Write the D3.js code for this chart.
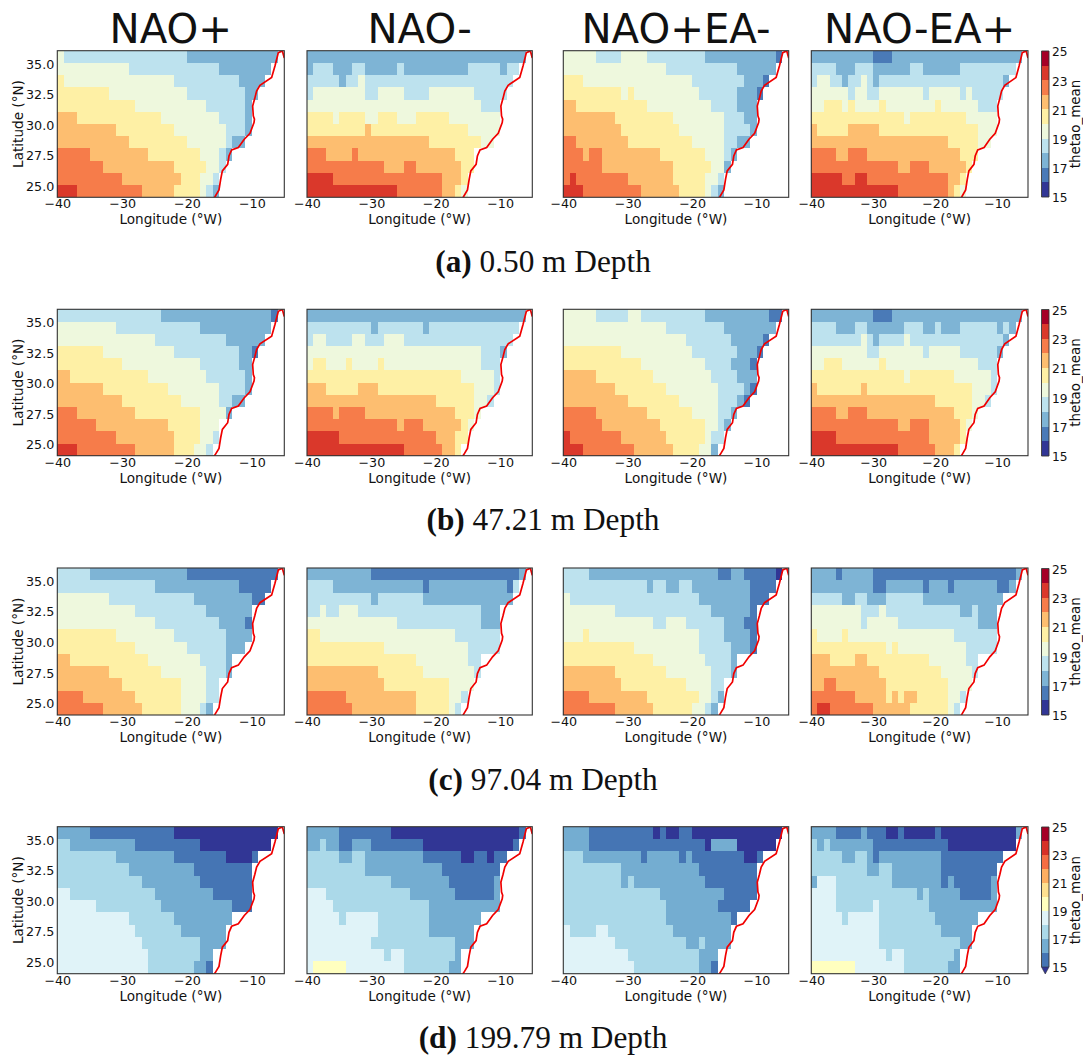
<!DOCTYPE html>
<html>
<head>
<meta charset="utf-8">
<script src="https://cdn.jsdelivr.net/npm/d3@7"></script>
<style>
  body { margin: 0; background: #fff; }
  text { font-family: "DejaVu Sans", sans-serif; fill: #111; }
  .caption text, text.caption { font-family: "Liberation Serif", serif; }
</style>
</head>
<body>
<div id="chart"></div>
<script>
// each row runs north to south, written as pairs: temperature bin (floor, degC), column where the run ends
// columns past the last run are land
const depth050NaoPlus = [
  [19,1, 18,20, 17,34],
  [19,11, 18,25, 17,33],
  [20,1, 19,18, 18,28, 17,32],
  [20,8, 19,20, 18,29, 17,31],
  [20,12, 19,23, 18,29, 17,30],
  [21,3, 20,16, 19,25, 18,29, 17,30],
  [21,9, 20,18, 19,26, 18,29, 17,30],
  [21,11, 20,20, 19,26, 18,27, 17,29],
  [22,5, 21,14, 20,22, 19,25, 18,26, 17,27],
  [22,7, 21,18, 20,23, 19,25, 18,26],
  [22,10, 21,19, 20,22, 19,24, 18,25],
  [23,3, 22,13, 21,18, 20,22, 19,23, 18,24, 17,25]
];
const depth050NaoMinus = [
  [17,34],
  [17,1, 18,4, 17,7, 18,9, 17,14, 18,15, 17,25, 18,30, 17,31, 18,33],
  [18,5, 17,6, 18,8, 19,9, 18,32],
  [18,1, 19,9, 18,11, 19,15, 18,19, 19,26, 18,31],
  [19,27, 18,30],
  [20,4, 19,5, 20,9, 19,11, 20,14, 19,17, 20,22, 19,30],
  [20,9, 21,10, 20,25, 19,30],
  [21,19, 20,27, 19,29],
  [22,3, 21,7, 22,8, 21,23, 20,26],
  [22,12, 21,15, 22,17, 21,24, 20,26],
  [23,4, 22,21, 21,24, 20,25],
  [23,14, 22,21, 21,23, 20,24, 19,25]
];
const depth050NaoPlusEaMinus = [
  [19,5, 18,9, 19,13, 18,22, 17,33, 16,34],
  [19,16, 18,27, 17,33],
  [20,3, 19,20, 18,28, 17,31, 16,32],
  [20,9, 19,10, 20,11, 19,21, 18,27, 17,30, 16,31],
  [21,2, 20,13, 19,23, 18,27, 17,30],
  [21,8, 20,17, 19,25, 18,28, 17,30],
  [21,9, 20,18, 19,25, 18,29, 17,30],
  [22,2, 21,10, 20,20, 19,25, 18,27, 17,29],
  [22,3, 21,4, 22,6, 21,15, 20,22, 19,25, 18,26, 17,27],
  [22,6, 21,17, 20,23, 19,25, 17,26],
  [22,1, 23,2, 22,10, 21,17, 20,22, 19,24, 18,25],
  [23,3, 22,12, 21,18, 20,22, 19,23, 18,24, 17,25]
];
const depth050NaoMinusEaPlus = [
  [17,10, 16,13, 17,34],
  [18,4, 17,7, 18,10, 17,16, 18,18, 17,24, 18,33],
  [18,1, 19,3, 18,5, 17,6, 18,8, 19,9, 18,10, 17,11, 18,31, 17,32],
  [19,6, 18,7, 19,9, 18,11, 19,18, 18,19, 19,24, 18,25, 19,26, 18,31],
  [19,2, 20,5, 19,6, 20,7, 19,11, 20,12, 19,20, 20,21, 19,27, 18,30],
  [20,15, 19,16, 20,25, 19,30],
  [21,1, 20,6, 21,11, 20,27, 19,30],
  [21,22, 20,27, 19,29],
  [22,4, 21,6, 22,9, 21,24, 20,27],
  [22,14, 21,16, 22,19, 21,25, 20,26],
  [23,5, 22,7, 23,9, 22,22, 21,24, 20,25],
  [23,14, 22,22, 21,23, 20,24, 19,25]
];

const depth47NaoPlus = [
  [18,16, 17,33, 16,34],
  [19,9, 18,22, 17,33],
  [19,15, 18,26, 17,32],
  [20,7, 19,18, 18,28, 17,30, 16,31],
  [20,10, 19,22, 18,28, 17,30],
  [21,2, 20,14, 19,23, 18,29, 17,30],
  [21,7, 20,17, 19,25, 18,29, 17,30],
  [21,10, 20,19, 19,25, 18,27, 17,29],
  [22,3, 21,12, 20,22, 19,26, 17,27],
  [22,6, 21,17, 20,22, 19,25],
  [22,9, 21,18, 20,22, 19,24, 18,25],
  [23,3, 22,12, 21,18, 20,21, 19,23, 18,24]
];
const depth47NaoMinus = [
  [17,34],
  [18,10, 17,11, 18,18, 17,19, 18,33],
  [18,1, 19,3, 18,7, 19,9, 18,12, 19,15, 18,32],
  [19,27, 18,30, 17,31],
  [19,1, 20,3, 19,6, 20,7, 19,11, 20,12, 19,27, 18,30],
  [20,24, 19,29, 18,30],
  [21,3, 20,8, 21,11, 20,26, 19,29, 18,30],
  [21,20, 20,26, 19,28, 18,29],
  [22,4, 21,5, 22,9, 21,23, 20,26, 19,27],
  [22,14, 21,15, 22,18, 21,24, 20,25, 19,26],
  [23,5, 22,20, 21,23, 20,25],
  [23,15, 22,21, 21,23, 20,24]
];
const depth47NaoPlusEaMinus = [
  [19,5, 18,10, 19,12, 18,22, 17,32, 16,34],
  [19,16, 18,25, 17,33],
  [19,19, 18,26, 17,31, 16,32],
  [20,9, 19,20, 18,27, 17,30, 16,31],
  [20,12, 19,22, 18,26, 17,29, 16,30],
  [21,5, 20,14, 19,23, 18,27, 17,30],
  [21,8, 20,16, 19,24, 18,28, 17,29, 16,30],
  [21,10, 20,18, 19,24, 18,27, 17,28, 16,29],
  [22,5, 21,13, 20,20, 19,24, 18,26, 17,27],
  [22,6, 21,15, 20,22, 19,24, 18,25, 17,26],
  [23,1, 22,9, 21,16, 20,22, 19,23, 18,25],
  [23,3, 22,11, 21,17, 20,21, 19,23, 17,24]
];
const depth47NaoMinusEaPlus = [
  [17,10, 16,13, 17,34],
  [18,4, 17,7, 18,9, 17,15, 18,18, 17,20, 18,21, 17,24, 18,30, 17,31, 18,32, 17,33],
  [18,8, 19,9, 18,10, 17,11, 18,15, 19,16, 18,31, 17,32],
  [19,9, 18,11, 19,18, 18,19, 19,24, 18,30, 17,31],
  [19,2, 20,5, 19,11, 20,12, 19,27, 18,30],
  [20,15, 19,16, 20,23, 19,29, 18,30],
  [21,1, 20,8, 21,9, 20,26, 19,29, 18,30],
  [21,20, 20,26, 19,28, 18,29],
  [22,4, 21,6, 22,9, 21,23, 20,26, 19,27],
  [22,14, 21,16, 22,19, 21,24, 20,25, 19,26],
  [23,4, 22,19, 21,24, 20,25],
  [23,14, 22,20, 21,23, 20,24]
];

const depth97NaoPlus = [
  [18,5, 17,20, 16,34],
  [18,15, 17,28, 16,33],
  [19,8, 18,21, 17,30, 16,32],
  [19,12, 18,23, 17,30],
  [19,15, 18,25, 17,29, 16,30],
  [20,9, 19,18, 18,26, 17,30],
  [20,12, 19,20, 18,26, 17,29],
  [21,2, 20,14, 19,22, 18,26, 17,27],
  [21,8, 20,16, 19,23, 18,26, 17,27],
  [21,10, 20,19, 19,23, 18,25],
  [22,4, 21,12, 20,19, 19,23, 18,25],
  [22,7, 21,13, 20,19, 19,22, 18,23, 17,24]
];
const depth97NaoMinus = [
  [17,10, 16,33, 17,34],
  [18,4, 17,18, 16,19, 17,31, 16,32, 18,33],
  [18,10, 17,11, 18,18, 17,32],
  [18,2, 19,3, 18,5, 19,8, 18,27, 17,30],
  [19,14, 18,27, 17,30],
  [20,2, 19,23, 18,30],
  [20,12, 19,25, 18,30],
  [20,17, 19,25, 18,27],
  [21,11, 20,18, 19,26, 18,27],
  [21,12, 20,22, 19,26],
  [22,6, 21,17, 20,22, 19,24, 18,25],
  [22,7, 21,17, 20,22, 19,23, 18,24]
];
const depth97NaoPlusEaMinus = [
  [18,4, 17,24, 16,26, 17,28, 16,33, 15,34],
  [18,13, 17,14, 18,16, 17,18, 18,20, 17,29, 16,33],
  [19,1, 18,21, 17,29, 16,32],
  [19,8, 18,23, 17,29, 16,30],
  [19,14, 18,16, 19,19, 18,25, 17,28, 16,30],
  [19,3, 20,4, 19,21, 18,25, 17,29, 16,30],
  [20,11, 19,21, 18,26, 17,29, 16,30],
  [20,14, 19,22, 18,26, 17,27],
  [21,8, 20,16, 19,23, 18,26, 17,27],
  [21,9, 20,19, 19,23, 18,25],
  [22,4, 21,13, 20,21, 19,23, 18,24, 17,25],
  [22,8, 21,14, 20,20, 19,22, 18,23, 17,24]
];
const depth97NaoMinusEaPlus = [
  [17,4, 16,5, 17,10, 16,33, 17,34],
  [17,10, 16,12, 17,18, 16,19, 17,22, 16,23, 17,30, 16,32, 17,33],
  [18,5, 17,7, 18,9, 17,12, 18,18, 17,31],
  [19,8, 18,11, 19,12, 18,24, 17,26, 18,27, 17,30],
  [19,8, 18,9, 19,14, 18,27, 17,30],
  [20,1, 19,5, 20,6, 19,23, 18,30],
  [20,12, 19,13, 20,14, 19,25, 18,30],
  [21,3, 20,7, 21,9, 20,19, 19,25, 18,27],
  [21,11, 20,21, 19,26, 18,27],
  [21,2, 22,4, 21,12, 20,22, 19,26],
  [22,7, 21,12, 20,13, 21,14, 20,15, 21,17, 20,22, 19,24, 18,25],
  [22,1, 23,3, 22,10, 21,16, 20,22, 19,23, 18,24]
];

const depth200NaoPlus = [
  [16,5, 15,18, 14,34],
  [17,2, 16,12, 15,22, 14,33],
  [17,9, 16,18, 15,26, 14,30, 15,31],
  [17,11, 16,21, 15,30],
  [17,13, 16,22, 15,30],
  [18,2, 17,15, 16,24, 15,30],
  [18,6, 17,16, 16,27, 15,30],
  [18,11, 17,18, 16,27],
  [18,12, 17,19, 16,26],
  [18,13, 17,22, 16,26],
  [18,14, 17,22, 16,24],
  [18,14, 17,21, 16,23, 15,24]
];
const depth200NaoMinus = [
  [16,5, 15,13, 14,33, 15,34],
  [16,2, 17,3, 16,5, 15,7, 16,10, 15,18, 14,32, 15,33],
  [17,5, 16,7, 17,9, 16,18, 15,24, 14,26, 15,28, 14,29, 15,31],
  [17,9, 16,21, 15,30],
  [17,13, 16,22, 15,29, 16,30],
  [18,3, 17,16, 16,23, 15,29, 16,30],
  [18,4, 17,19, 16,30],
  [18,5, 17,6, 18,11, 17,19, 16,27],
  [18,11, 17,19, 16,26],
  [18,10, 17,23, 16,26],
  [18,12, 17,13, 18,15, 17,23, 16,24],
  [18,1, 19,6, 18,15, 17,22, 16,24]
];
const depth200NaoPlusEaMinus = [
  [16,4, 15,14, 14,15, 15,16, 14,18, 15,20, 14,34],
  [16,4, 15,22, 14,23, 16,27, 14,33],
  [17,3, 16,12, 15,13, 16,18, 15,19, 16,20, 15,28, 14,30, 15,31],
  [17,9, 16,21, 15,30],
  [17,9, 16,10, 17,11, 16,22, 15,30],
  [17,15, 16,25, 15,30],
  [17,16, 16,24, 15,29],
  [17,16, 16,26, 15,27],
  [18,1, 17,5, 18,7, 17,17, 16,26],
  [18,8, 17,19, 16,21, 17,22, 16,26],
  [18,10, 17,21, 16,24],
  [18,11, 17,21, 16,23, 15,24]
];
const depth200NaoMinusEaPlus = [
  [16,4, 15,8, 16,9, 15,12, 14,14, 15,15, 14,20, 15,21, 14,33, 16,34],
  [17,1, 16,2, 17,3, 16,10, 15,22, 14,33],
  [17,5, 16,7, 17,9, 16,10, 15,11, 16,21, 15,31],
  [17,9, 16,11, 17,13, 16,21, 15,30],
  [16,1, 18,4, 17,13, 16,21, 15,22, 16,23, 15,29, 16,30],
  [18,4, 17,17, 16,18, 17,19, 16,24, 15,29, 16,30],
  [18,4, 17,10, 18,11, 17,19, 16,30],
  [18,5, 17,6, 18,11, 17,20, 16,27],
  [18,11, 17,21, 16,26],
  [18,11, 17,24, 16,26],
  [18,12, 17,13, 18,15, 17,23, 16,24],
  [19,7, 18,15, 17,22, 16,24]
];

const scenarios = ["NAO+", "NAO-", "NAO+EA-", "NAO-EA+"];
const depthLabels = ["0.50", "47.21", "97.04", "199.79"];
const depthLetters = ["a", "b", "c", "d"];

const lonTicks = [-40, -30, -20, -10];
const latTicks = [25, 27.5, 30, 32.5, 35];
const barTicks = [15, 17, 19, 21, 23, 25];

// coast outline, lon and lat
const coastLon = [-15.9, -15.69, -15.07, -14.81, -14.55, -13.73, -13.53, -13.12, -12.09, -11.17, -10.29, -9.67, -9.6, -9.78, -9.88, -9.55, -9.27, -8.75, -6.95, -6.44, -5.92, -5.3, -5.0];
const coastLat = [23.9, 24.05, 24.6, 25.47, 26.16, 26.7, 27.38, 27.87, 28.07, 28.75, 29.24, 30.11, 30.4, 30.66, 31.47, 32.1, 32.7, 33.17, 33.8, 34.75, 35.84, 35.98, 35.4];

const colors10 = ["#313695", "#4a7ab7", "#7eb4d5", "#bde2ee", "#eef8dd", "#fef0a5", "#fdbe70", "#f67c4a", "#da382b", "#a50026"];
const colors11 = ["#313695", "#4575b4", "#74add1", "#abd9e9", "#e0f3f8", "#ffffbf", "#fee090", "#fdae61", "#f46d43", "#d73027", "#a50026"];

const grids = [
  [depth050NaoPlus, depth050NaoMinus, depth050NaoPlusEaMinus, depth050NaoMinusEaPlus],
  [depth47NaoPlus, depth47NaoMinus, depth47NaoPlusEaMinus, depth47NaoMinusEaPlus],
  [depth97NaoPlus, depth97NaoMinus, depth97NaoPlusEaMinus, depth97NaoMinusEaPlus],
  [depth200NaoPlus, depth200NaoMinus, depth200NaoPlusEaMinus, depth200NaoMinusEaPlus]
];

const width = 1083;
const height = 1055;
const columnsX = [[57.3, 284.3], [307, 532.3], [563.3, 788.7], [811.3, 1028]];
const rowsY = [[50.7, 197.3], [309.3, 455.7], [568, 715], [826.7, 973.7]];
const barX = [1041.5, 1049];
const barY = [[51, 197], [309.5, 456], [568.5, 715], [827, 967]];
const tickFont = 12.7;
const labelFont = 13.6;

function expandRow(runs, rowIndex) {
  const cells = [];
  let col = 0;
  for (let i = 0; i < runs.length; i += 2) {
    for (; col < runs[i + 1]; col++) {
      cells.push({ lon: -40 + col, lat: 35 - rowIndex, value: runs[i] + 0.5 });
    }
  }
  return cells;
}

const svg = d3.select("#chart").append("svg")
  .attr("width", width)
  .attr("height", height);

scenarios.forEach((name, j) => {
  svg.append("text")
    .attr("x", d3.mean(columnsX[j]))
    .attr("y", 43)
    .attr("text-anchor", "middle")
    .attr("font-size", 40.3)
    .text(name);
});

function styleTicks(g) {
  g.select(".domain").remove();
  g.selectAll("text")
    .attr("font-size", tickFont)
    .attr("font-family", "DejaVu Sans")
    .attr("fill", "#111");
}

grids.forEach((row, i) => {
  // the deepest row uses eleven bands with an open lower end
  const extended = i === 3;
  const color = extended
    ? d3.scaleThreshold().domain(d3.range(15, 25)).range(colors11)
    : d3.scaleThreshold().domain(d3.range(16, 25)).range(colors10);

  row.forEach((grid, j) => {
    const x = d3.scaleLinear().domain([-40, -5]).range(columnsX[j]);
    const y = d3.scaleLinear().domain([24, 36]).range([rowsY[i][1], rowsY[i][0]]);
    const clipId = `clip-${i}-${j}`;

    svg.append("clipPath").attr("id", clipId)
      .append("rect")
      .attr("x", x(-40))
      .attr("y", y(36))
      .attr("width", x(-5) - x(-40))
      .attr("height", y(24) - y(36));

    const panel = svg.append("g");

    panel.selectAll("rect.cell")
      .data(grid.flatMap(expandRow))
      .enter()
      .append("rect")
      .attr("class", "cell")
      .attr("x", d => x(d.lon))
      .attr("y", d => y(d.lat + 1))
      .attr("width", d => x(d.lon + 1) - x(d.lon))
      .attr("height", d => y(d.lat) - y(d.lat + 1))
      .attr("fill", d => color(d.value))
      .attr("shape-rendering", "crispEdges");

    const coast = d3.line().x(d => x(d[0])).y(d => y(d[1]));
    panel.append("path")
      .attr("d", coast(d3.zip(coastLon, coastLat)))
      .attr("clip-path", `url(#${clipId})`)
      .attr("fill", "none")
      .attr("stroke", "#f00000")
      .attr("stroke-width", 1.7);

    panel.append("rect")
      .attr("x", x(-40))
      .attr("y", y(36))
      .attr("width", x(-5) - x(-40))
      .attr("height", y(24) - y(36))
      .attr("fill", "none")
      .attr("stroke", "#333")
      .attr("stroke-width", 1.1);

    const xAxis = d3.axisBottom(x).tickValues(lonTicks).tickSize(0).tickPadding(2).tickFormat(d3.format("d"));
    panel.append("g")
      .attr("class", "axis")
      .attr("transform", `translate(0, ${y(24)})`)
      .call(xAxis)
      .call(styleTicks);

    panel.append("text")
      .attr("x", d3.mean(columnsX[j]))
      .attr("y", y(24) + 27)
      .attr("text-anchor", "middle")
      .attr("font-size", labelFont)
      .text("Longitude (°W)");

    if (j === 0) {
      const yAxis = d3.axisLeft(y).tickValues(latTicks).tickSize(0).tickPadding(3).tickFormat(d3.format(".1f"));
      panel.append("g")
        .attr("class", "axis")
        .attr("transform", `translate(${x(-40)}, 0)`)
        .call(yAxis)
        .call(styleTicks)
        .call(g => g.selectAll("text").attr("dy", "0.4em"));

      panel.append("text")
        .attr("transform", `translate(23, ${d3.mean(rowsY[i])}) rotate(-90)`)
        .attr("text-anchor", "middle")
        .attr("font-size", labelFont)
        .text("Latitude (°N)");
    }
  });

  // colorbar
  const barScale = d3.scaleLinear().domain([15, 25]).range([barY[i][1], barY[i][0]]);
  const bar = svg.append("g");
  bar.selectAll("rect")
    .data(d3.range(15, 25))
    .enter()
    .append("rect")
    .attr("x", barX[0])
    .attr("y", d => barScale(d + 1))
    .attr("width", barX[1] - barX[0])
    .attr("height", d => barScale(d) - barScale(d + 1))
    .attr("fill", d => color(d + 0.5))
    .attr("shape-rendering", "crispEdges");

  if (extended) {
    const mid = d3.mean(barX);
    bar.append("path")
      .attr("d", `M${barX[0]},${barScale(15)}L${barX[1]},${barScale(15)}L${mid},${barScale(15) + 7}Z`)
      .attr("fill", color(14.5))
      .attr("stroke", "#333")
      .attr("stroke-width", 0.6);
  }

  bar.append("path")
    .attr("d", `M${barX[0]},${barScale(15)}V${barScale(25)}H${barX[1]}V${barScale(15)}`)
    .attr("fill", "none")
    .attr("stroke", "#333")
    .attr("stroke-width", 0.9);
  if (!extended) {
    bar.append("line")
      .attr("x1", barX[0]).attr("x2", barX[1])
      .attr("y1", barScale(15)).attr("y2", barScale(15))
      .attr("stroke", "#333")
      .attr("stroke-width", 0.9);
  }

  const barAxis = d3.axisRight(barScale).tickValues(barTicks).tickSize(0).tickPadding(3);
  bar.append("g")
    .attr("transform", `translate(${barX[1]}, 0)`)
    .call(barAxis)
    .call(styleTicks)
    .call(g => g.selectAll("text").attr("dy", "0.4em").attr("font-size", 12.2));

  bar.append("text")
    .attr("transform", `translate(1079.5, ${d3.mean(rowsY[i])}) rotate(-90)`)
    .attr("text-anchor", "middle")
    .attr("font-size", 13.4)
    .text("thetao_mean");

  // caption, with the letter in bold
  const caption = svg.append("text")
    .attr("class", "caption")
    .attr("x", 543)
    .attr("y", rowsY[i][1] + 74.5)
    .attr("text-anchor", "middle")
    .attr("font-size", 31.3);
  caption.append("tspan").attr("font-weight", "bold").text(`(${depthLetters[i]})`);
  caption.append("tspan").text(` ${depthLabels[i]} m Depth`);
});
</script>
</body>
</html>
